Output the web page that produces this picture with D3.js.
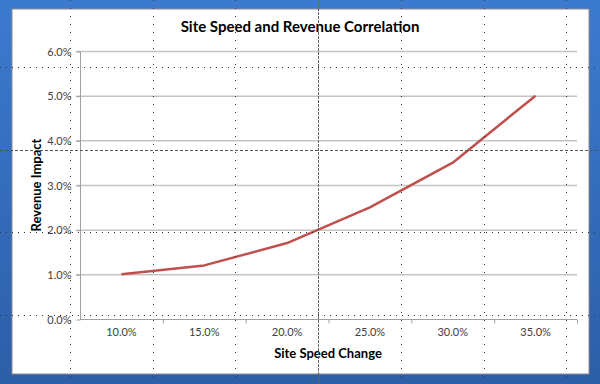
<!DOCTYPE html>
<html>
<head>
<meta charset="utf-8">
<script src="https://cdn.jsdelivr.net/npm/d3@7"></script>
<style>
  body { margin: 0; padding: 0; }
  svg { display: block; }
  text { font-family: Lato, "Open Sans", sans-serif; }
</style>
</head>
<body>
<div id="plot"></div>
<script>
var width = 600;
var height = 384;

// data
var categories = ['10.0%', '15.0%', '20.0%', '25.0%', '30.0%', '35.0%'];
var revenue = [1.0, 1.2, 1.7, 2.5, 3.5, 5.0];
var y_ticks = [0, 1, 2, 3, 4, 5, 6];

var title = 'Site Speed and Revenue Correlation';
var x_title = 'Site Speed Change';
var y_title = 'Revenue Impact';

var canvas = d3.select('#plot')
    .append('svg')
    .attr('width', width)
    .attr('height', height);

// blue background
var defs = canvas.append('defs');
var grad = defs.append('linearGradient')
    .attr('id', 'bg')
    .attr('x1', 0).attr('y1', 0)
    .attr('x2', 0).attr('y2', 1);
grad.append('stop').attr('offset', '0%').attr('stop-color', '#3b7bcf');
grad.append('stop').attr('offset', '100%').attr('stop-color', '#2d5ea8');

canvas.append('rect')
    .attr('width', width)
    .attr('height', height)
    .attr('fill', 'url(#bg)');

// white chart panel
canvas.append('rect')
    .attr('x', 12)
    .attr('y', 9)
    .attr('width', 577)
    .attr('height', 365)
    .attr('fill', 'white')
    .attr('stroke', '#8c8c8c')
    .attr('stroke-width', 1);

var x_scale = d3.scaleBand()
    .domain(categories)
    .range([80, 577]);

var y_scale = d3.scaleLinear()
    .domain([0, 6])
    .range([319, 51]);

// horizontal gridlines
canvas.selectAll('line.grid')
    .data(y_ticks.slice(1))
    .enter()
    .append('line')
    .attr('class', 'grid')
    .attr('x1', 76)
    .attr('x2', 577)
    .attr('y1', function(d) { return y_scale(d) + 0.5; })
    .attr('y2', function(d) { return y_scale(d) + 0.5; })
    .attr('stroke', '#c4c4c4')
    .attr('stroke-width', 1.5);

// y axis
var y_axis = d3.axisLeft(y_scale)
    .tickValues(y_ticks)
    .tickSize(4)
    .tickPadding(5)
    .tickFormat(function(d) { return d.toFixed(1) + '%'; });

var gy = canvas.append('g')
    .attr('class', 'y-axis')
    .attr('transform', 'translate(80.5,0.5)')
    .call(y_axis);

// x axis
var x_axis = d3.axisBottom(x_scale)
    .tickSize(0)
    .tickPadding(9);

var gx = canvas.append('g')
    .attr('class', 'x-axis')
    .attr('transform', 'translate(0,' + (y_scale(0) + 0.5) + ')')
    .call(x_axis);

// tick marks on band edges
var edges = categories.map(function(d) { return x_scale(d); });
edges.push(x_scale.range()[1]);
gx.selectAll('line.edge')
    .data(edges.slice(1))
    .enter()
    .append('line')
    .attr('class', 'edge')
    .attr('x1', function(d) { return d + 0.5; })
    .attr('x2', function(d) { return d + 0.5; })
    .attr('y1', 0)
    .attr('y2', 4)
    .attr('stroke', '#a0a0a0');

[gx, gy].forEach(function(g) {
    g.select('.domain').attr('stroke', '#a0a0a0');
    g.selectAll('.tick line').attr('stroke', '#a0a0a0');
    g.selectAll('.tick text')
        .attr('fill', '#404040')
        .attr('font-size', 11)
        .attr('font-family', 'Lato, sans-serif');
});
gy.select('.domain').attr('d', 'M0,' + y_scale(6) + 'V' + y_scale(0));
gx.select('.domain').attr('d', 'M' + x_scale.range()[0] + ',0H' + x_scale.range()[1]);

// the series line
var line_gen = d3.line()
    .x(function(d, i) { return x_scale(categories[i]) + x_scale.bandwidth() / 2; })
    .y(function(d) { return y_scale(d); });

canvas.append('path')
    .datum(revenue)
    .attr('d', line_gen)
    .attr('fill', 'none')
    .attr('stroke', '#c0504d')
    .attr('stroke-width', 2.5)
    .attr('stroke-linejoin', 'round');

// titles
canvas.append('text')
    .attr('x', 300)
    .attr('y', 32)
    .attr('text-anchor', 'middle')
    .attr('font-size', 15)
    .attr('font-weight', 'bold')
    .attr('fill', '#000')
    .text(title);

canvas.append('text')
    .attr('x', 328)
    .attr('y', 358)
    .attr('text-anchor', 'middle')
    .attr('font-size', 13)
    .attr('font-weight', 'bold')
    .attr('fill', '#000')
    .text(x_title);

canvas.append('text')
    .attr('transform', 'translate(41,185) rotate(-90)')
    .attr('text-anchor', 'middle')
    .attr('font-size', 13)
    .attr('font-weight', 'bold')
    .attr('fill', '#000')
    .text(y_title);

// dotted guide grid laid over the screenshot
var step = 82.7;
var gx_lines = d3.range(0, 7).map(function(i) { return 70 + i * step; });
var gy_lines = d3.range(0, 4).map(function(i) { return 67 + i * step; });

canvas.selectAll('line.guide-v')
    .data(gx_lines)
    .enter()
    .append('line')
    .attr('class', 'guide-v')
    .attr('x1', function(d) { return Math.round(d) + 0.5; })
    .attr('x2', function(d) { return Math.round(d) + 0.5; })
    .attr('y1', 0)
    .attr('y2', height)
    .attr('stroke', function(d, i) { return i == 3 ? '#666' : '#333'; })
    .attr('stroke-width', 1)
    .attr('stroke-dasharray', function(d, i) { return i == 3 ? '3,1' : '1,7'; });

canvas.selectAll('line.guide-h')
    .data(gy_lines)
    .enter()
    .append('line')
    .attr('class', 'guide-h')
    .attr('y1', function(d) { return Math.round(d) + 0.5; })
    .attr('y2', function(d) { return Math.round(d) + 0.5; })
    .attr('x1', 0)
    .attr('x2', width)
    .attr('stroke', function(d, i) { return i == 1 ? '#555' : '#333'; })
    .attr('stroke-width', 1)
    .attr('stroke-dasharray', function(d, i) { return i == 1 ? '3,2' : '1,5'; });
</script>
</body>
</html>
